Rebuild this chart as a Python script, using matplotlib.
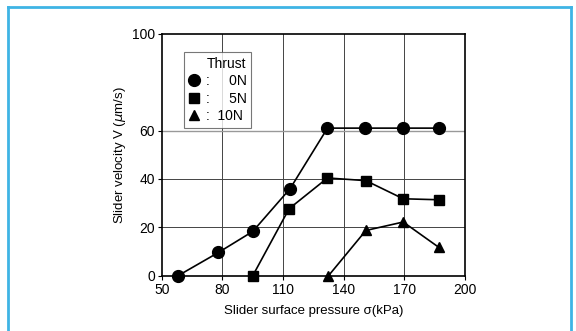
import matplotlib.pyplot as plt
from matplotlib.lines import Line2D

plt.rcParams['font.family'] = ['Liberation Sans', 'DejaVu Sans']
plt.rcParams['mathtext.fontset'] = 'dejavusans'

# data
x_0n = [58, 78, 95, 113.5, 132, 150.5, 169.5, 187]
v_0n = [0, 9.6, 18.3, 36, 61, 61, 61, 61]
x_5n = [95, 113, 132, 151, 169.5, 187]
v_5n = [0, 27.7, 40.4, 39.3, 31.8, 31.4]
x_10n = [132.5, 151, 169.5, 187]
v_10n = [0, 18.7, 22.2, 11.8]

xticks = [50, 80, 110, 140, 170, 200]
yticks = [0, 20, 40, 60, 100]

fig = plt.figure(figsize=(5.76, 3.31), dpi=100)
ax = fig.add_axes([0.281, 0.167, 0.526, 0.731])

# grid
for xv in [80, 110, 140, 170]:
    ax.axvline(xv, color='#444444', lw=0.7, zorder=1)
for yv in [20, 40]:
    ax.axhline(yv, color='#444444', lw=0.7, zorder=1)
ax.axhline(60, color='#999999', lw=1.0, zorder=1)

ax.plot(x_0n, v_0n, 'k-o', ms=8.5, lw=1.2, zorder=3, clip_on=False)
ax.plot(x_5n, v_5n, 'k-s', ms=7.5, lw=1.2, zorder=3, clip_on=False)
ax.plot(x_10n, v_10n, 'k-^', ms=7.5, lw=1.2, zorder=3, clip_on=False)

ax.set_xlim(50, 200)
ax.set_ylim(0, 100)
ax.set_xticks(xticks)
ax.set_yticks(yticks)
ax.tick_params(labelsize=10, length=3, width=0.8, pad=2)
for s in ax.spines.values():
    s.set_linewidth(1.2)

ax.set_xlabel('Slider surface pressure \u03c3(kPa)', fontsize=9.5, labelpad=6)
ax.set_ylabel(r'Slider velocity V ($\mu$m/s)', fontsize=9.5, labelpad=3)

handles = [
    Line2D([], [], color='k', marker='o', ls='none', ms=8.5),
    Line2D([], [], color='k', marker='s', ls='none', ms=7.5),
    Line2D([], [], color='k', marker='^', ls='none', ms=7.5),
]
labels = [':   \u20070N', ':   \u20075N', ':  10N']
leg = ax.legend(handles, labels, title='Thrust', loc='upper left',
                bbox_to_anchor=(0.073, 0.925), borderaxespad=0,
                fontsize=10, title_fontsize=10,
                frameon=True, fancybox=False, edgecolor='#555555',
                handlelength=0.8, handletextpad=0.4, borderpad=0.35,
                labelspacing=0.25, alignment='right')
leg.get_frame().set_linewidth(0.8)

# light blue frame
fc = '#3fb4e5'
fig.add_artist(Line2D([0.014, 0.014], [0, 0.978], color=fc, lw=2, transform=fig.transFigure))
fig.add_artist(Line2D([0.014, 0.991], [0.978, 0.978], color=fc, lw=2, transform=fig.transFigure))
fig.add_artist(Line2D([0.991, 0.991], [0, 0.978], color=fc, lw=2, transform=fig.transFigure))

fig.savefig('out.png', dpi=100)
